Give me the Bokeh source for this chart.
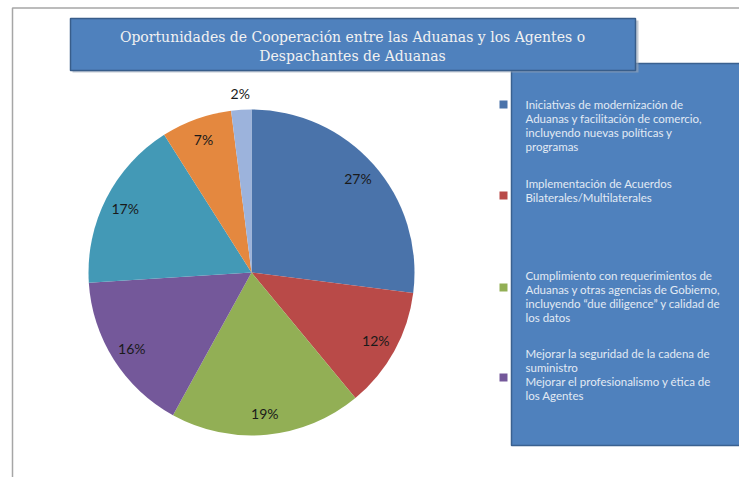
import math
from bokeh.plotting import figure
from bokeh.models import Range1d
from bokeh.core.properties import value
from bokeh.embed import file_html
from bokeh.resources import INLINE

# ---------------- data ----------------
title_lines = [
    "Oportunidades de Cooperación entre las Aduanas y los Agentes o",
    "Despachantes de Aduanas",
]
shares = [27, 12, 19, 16, 17, 7, 2]
slice_colors = ["#4A73AA", "#B94A48", "#92AF55", "#74589A", "#4399B6", "#E4883F", "#9CB3DC"]
legend_entries = [
    ["Iniciativas de modernización de", "Aduanas y facilitación de comercio,",
     "incluyendo  nuevas políticas y", "programas"],
    ["Implementación de Acuerdos", "Bilaterales/Multilaterales"],
    ["Cumplimiento con requerimientos de", "Aduanas y otras agencias de Gobierno,",
     "incluyendo  “due diligence” y calidad de", "los datos"],
    ["Mejorar la seguridad de la cadena de", "suministro",
     "Mejorar el profesionalismo y ética de", "los Agentes"],
]

# ---------------- layout (pixel coords of the page) ----------------
W, H = 739, 477


def X(px):
    return px


def Y(py):
    return H - py


p = figure(width=W, height=H, output_backend="svg", toolbar_location=None,
           x_range=Range1d(0, W), y_range=Range1d(0, H), min_border=0,
           background_fill_color="white", border_fill_color="white")
p.axis.visible = False
p.grid.visible = False
p.outline_line_color = None

# outer chart border
p.line([X(12), X(12), X(760)], [Y(490), Y(7.5), Y(7.5)], line_color="#A6A6A6", line_width=1.5)

# pie
cx, cy, R = X(251), Y(272), 163
total = float(sum(shares))
cum = 0.0
starts, ends, lx, ly, ltxt = [], [], [], [], []
for s in shares:
    a0 = math.pi / 2 - 2 * math.pi * (cum + s) / total
    a1 = math.pi / 2 - 2 * math.pi * cum / total
    starts.append(a0)
    ends.append(a1)
    mid = (a0 + a1) / 2
    rf = 0.87 if s / total >= 0.03 else 1.10
    lx.append(cx + rf * R * math.cos(mid))
    ly.append(cy + rf * R * math.sin(mid))
    ltxt.append(f"{round(100 * s / total)}%")
    cum += s

p.wedge(x=[cx] * len(shares), y=[cy] * len(shares), radius=R,
        start_angle=starts, end_angle=ends, direction="anticlock",
        fill_color=slice_colors, line_color=None)
p.text(x=lx, y=ly, text=ltxt, text_align="center", text_baseline="middle",
       text_font=value("Lato"), text_font_size="14px", text_color="#1A1A1A")

# legend box
p.quad(left=X(511), right=X(760), top=Y(63), bottom=Y(445),
       fill_color="#4F81BD", line_color="#3A6190", line_width=1.5)

marker_y = [104, 195, 287, 377]
text_y0 = [104, 183, 275, 353]
step = 14
for i, lines in enumerate(legend_entries):
    p.rect(x=[X(503)], y=[Y(marker_y[i])], width=8, height=8,
           fill_color=slice_colors[i], line_color=None)
    p.text(x=[X(525)] * len(lines),
           y=[Y(text_y0[i] + k * step) for k in range(len(lines))],
           text=lines, text_align="left", text_baseline="middle",
           text_font=value("Lato"), text_font_size="11.5px", text_color="#E2EAF4")

# title box (drawn over legend box)
p.quad(left=X(72), right=X(638), top=Y(20), bottom=Y(72),
       fill_color="#9AA7B8", line_color=None, fill_alpha=0.6)
p.quad(left=X(70), right=X(635), top=Y(18), bottom=Y(70),
       fill_color="#4F81BD", line_color="#385D8A", line_width=1.5)
p.text(x=[X(352), X(352)], y=[Y(36), Y(55)], text=title_lines,
       text_align="center", text_baseline="middle",
       text_font=value("DejaVu Serif"), text_font_size="14px", text_color="#F2F2F2")

open("out.html", "w").write(file_html(p, INLINE))
